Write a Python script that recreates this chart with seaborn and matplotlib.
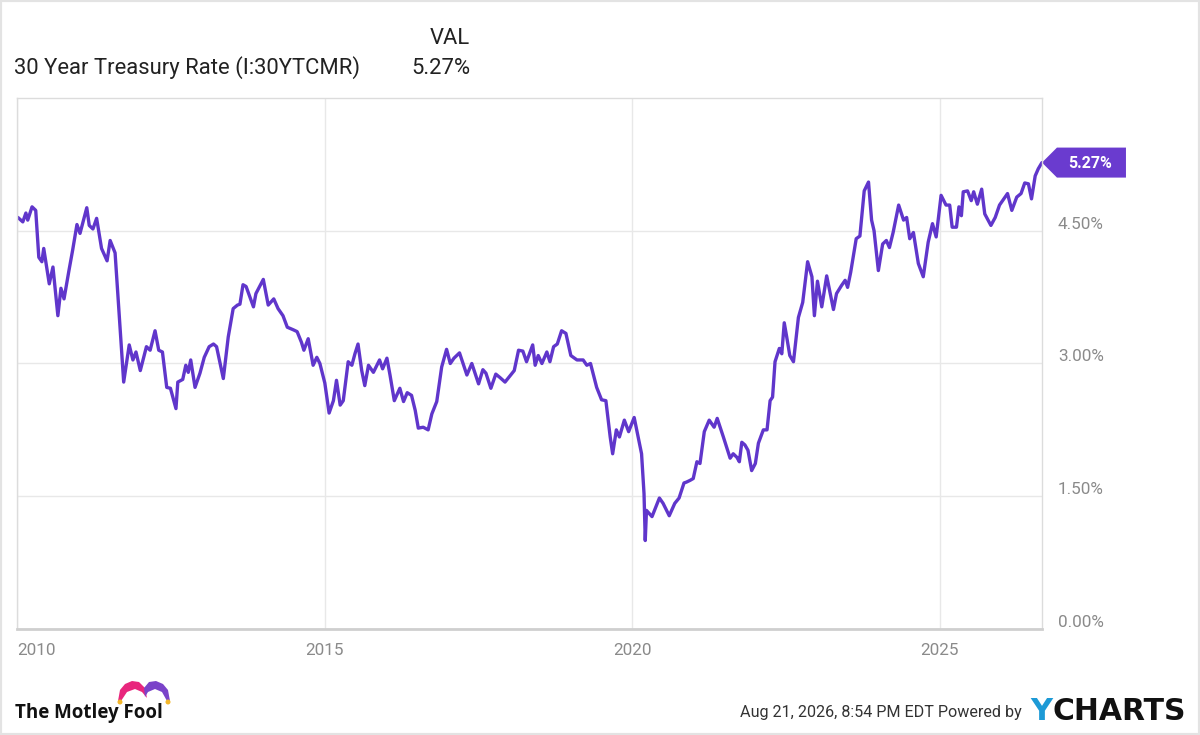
import numpy as np
import pandas as pd
import seaborn as sns
import matplotlib.pyplot as plt
from matplotlib.patches import Polygon, Rectangle, Circle
from matplotlib.transforms import ScaledTranslation

# 30 year treasury rate (decimal year, percent)
years = [
    2010.01, 2010.09, 2010.14, 2010.17, 2010.24, 2010.30, 2010.35, 2010.40, 2010.43, 2010.52,
    2010.58, 2010.66, 2010.71, 2010.76, 2010.84, 2010.90, 2010.97, 2011.02, 2011.13, 2011.17,
    2011.23, 2011.29, 2011.37, 2011.46, 2011.51, 2011.59, 2011.73, 2011.82, 2011.88, 2011.93,
    2012.00, 2012.10, 2012.16, 2012.24, 2012.30, 2012.36, 2012.43, 2012.49, 2012.58, 2012.61,
    2012.69, 2012.74, 2012.78, 2012.82, 2012.89, 2012.97, 2013.04, 2013.12, 2013.19, 2013.24,
    2013.35, 2013.43, 2013.51, 2013.58, 2013.62, 2013.67, 2013.72, 2013.84, 2013.88, 2014.00,
    2014.08, 2014.17, 2014.24, 2014.32, 2014.39, 2014.49, 2014.55, 2014.62, 2014.66, 2014.73,
    2014.81, 2014.87, 2014.92, 2015.00, 2015.07, 2015.14, 2015.19, 2015.25, 2015.30, 2015.38,
    2015.44, 2015.49, 2015.54, 2015.60, 2015.65, 2015.71, 2015.79, 2015.89, 2015.94, 2016.01,
    2016.06, 2016.13, 2016.22, 2016.28, 2016.34, 2016.41, 2016.47, 2016.52, 2016.60, 2016.68,
    2016.74, 2016.82, 2016.90, 2016.98, 2017.04, 2017.10, 2017.19, 2017.31, 2017.39, 2017.50,
    2017.57, 2017.62, 2017.70, 2017.78, 2017.85, 2017.93, 2018.01, 2018.08, 2018.15, 2018.22,
    2018.28, 2018.38, 2018.42, 2018.47, 2018.53, 2018.61, 2018.66, 2018.72, 2018.78, 2018.85,
    2018.92, 2019.00, 2019.10, 2019.20, 2019.26, 2019.32, 2019.42, 2019.50, 2019.57, 2019.64,
    2019.68, 2019.74, 2019.79, 2019.87, 2019.94, 2020.03, 2020.10, 2020.15, 2020.19, 2020.21,
    2020.23, 2020.32, 2020.44, 2020.50, 2020.60, 2020.69, 2020.76, 2020.84, 2020.88, 2020.94,
    2020.99, 2021.05, 2021.10, 2021.17, 2021.25, 2021.33, 2021.38, 2021.48, 2021.59, 2021.64,
    2021.70, 2021.74, 2021.78, 2021.83, 2021.88, 2021.94, 2022.00, 2022.05, 2022.13, 2022.19,
    2022.24, 2022.28, 2022.32, 2022.39, 2022.43, 2022.47, 2022.51, 2022.56, 2022.62, 2022.70,
    2022.77, 2022.85, 2022.92, 2022.96, 2023.01, 2023.08, 2023.16, 2023.27, 2023.32, 2023.40,
    2023.46, 2023.50, 2023.55, 2023.64, 2023.70, 2023.77, 2023.84, 2023.89, 2023.93, 2024.00,
    2024.07, 2024.13, 2024.18, 2024.24, 2024.33, 2024.41, 2024.46, 2024.51, 2024.57, 2024.65,
    2024.73, 2024.81, 2024.88, 2024.94, 2025.02, 2025.10, 2025.16, 2025.20, 2025.27, 2025.31,
    2025.35, 2025.38, 2025.45, 2025.51, 2025.55, 2025.61, 2025.68, 2025.73, 2025.83, 2025.90,
    2025.97, 2026.10, 2026.17, 2026.25, 2026.32, 2026.38, 2026.44, 2026.49, 2026.55, 2026.60,
    2026.66,
]
rates = [
    4.65, 4.60, 4.70, 4.62, 4.77, 4.73, 4.20, 4.15, 4.30, 3.90,
    4.09, 3.54, 3.85, 3.73, 4.05, 4.28, 4.57, 4.47, 4.76, 4.56,
    4.52, 4.64, 4.30, 4.16, 4.39, 4.25, 2.79, 3.21, 3.04, 3.13,
    2.92, 3.19, 3.15, 3.37, 3.15, 3.13, 2.73, 2.72, 2.49, 2.79,
    2.82, 2.98, 2.90, 3.04, 2.73, 2.89, 3.07, 3.19, 3.22, 3.19,
    2.83, 3.30, 3.62, 3.66, 3.67, 3.89, 3.87, 3.64, 3.79, 3.95,
    3.66, 3.73, 3.62, 3.54, 3.41, 3.38, 3.36, 3.24, 3.15, 3.28,
    2.98, 3.07, 3.00, 2.78, 2.44, 2.58, 2.81, 2.53, 2.58, 3.02,
    2.98, 3.11, 3.22, 2.92, 2.75, 2.98, 2.90, 3.04, 2.94, 3.06,
    2.87, 2.58, 2.72, 2.57, 2.67, 2.64, 2.47, 2.27, 2.28, 2.25,
    2.43, 2.57, 2.96, 3.16, 3.00, 3.06, 3.12, 2.87, 3.00, 2.77,
    2.93, 2.89, 2.72, 2.88, 2.84, 2.79, 2.86, 2.92, 3.15, 3.14,
    3.02, 3.21, 2.98, 3.09, 3.00, 3.13, 3.02, 3.19, 3.22, 3.37,
    3.34, 3.09, 3.04, 3.04, 2.98, 3.00, 2.73, 2.59, 2.58, 2.17,
    1.98, 2.25, 2.17, 2.36, 2.23, 2.39, 2.15, 1.98, 1.53, 1.00,
    1.34, 1.27, 1.48, 1.42, 1.28, 1.42, 1.48, 1.65, 1.66, 1.68,
    1.70, 1.89, 1.87, 2.23, 2.36, 2.28, 2.38, 2.17, 1.93, 1.98,
    1.94, 1.89, 2.11, 2.08, 2.02, 1.79, 1.87, 2.10, 2.25, 2.25,
    2.58, 2.62, 3.02, 3.17, 3.11, 3.46, 3.30, 3.09, 3.02, 3.52,
    3.69, 4.15, 3.98, 3.54, 3.93, 3.64, 3.99, 3.61, 3.79, 3.88,
    3.94, 3.86, 4.03, 4.41, 4.44, 4.95, 5.05, 4.62, 4.50, 4.05,
    4.35, 4.39, 4.31, 4.48, 4.79, 4.62, 4.65, 4.41, 4.48, 4.13,
    3.98, 4.37, 4.58, 4.43, 4.90, 4.79, 4.79, 4.54, 4.54, 4.77,
    4.67, 4.94, 4.95, 4.84, 4.94, 4.80, 4.97, 4.69, 4.56, 4.65,
    4.79, 4.92, 4.73, 4.88, 4.92, 5.04, 5.03, 4.86, 5.12, 5.20,
    5.27,
]
x_ticks = [2010, 2015, 2020, 2025]
y_ticks = [0.0, 1.5, 3.0, 4.5]

df = pd.DataFrame({'year': years, 'rate': rates})

sns.set_style("white")
plt.rcParams['font.family'] = ['Roboto', 'DejaVu Sans']

purple = '#6036cb'
grey_text = '#8a8a8a'
grid_col = '#e8e8e8'

fig = plt.figure(figsize=(12, 7.35), dpi=100)
ax = fig.add_axes([0.0144, 0.1442, 0.8539, 0.7225])

sns.lineplot(data=df, x='year', y='rate', ax=ax, color=purple, linewidth=2.4)

ax.set_xlim(2010.0, 2026.66)
ax.set_ylim(0, 6.0)
ax.set_xlabel('')
ax.set_ylabel('')

ax.set_xticks(x_ticks)
ax.set_xticklabels([str(t) for t in x_ticks])
ax.set_yticks(y_ticks)
ax.set_yticklabels(['%.2f%%' % v for v in y_ticks])
ax.yaxis.tick_right()
ax.grid(True, color=grid_col, linewidth=1)
ax.tick_params(axis='both', length=0, labelcolor=grey_text, labelsize=12.3)
ax.tick_params(axis='y', pad=11.5)
ax.tick_params(axis='x', pad=10)

# y labels sit a little above their gridlines
for lab in ax.get_yticklabels():
    lab.set_transform(lab.get_transform() + ScaledTranslation(0, 8 / 100, fig.dpi_scale_trans))
ax.get_xticklabels()[0].set_horizontalalignment('left')

for side in ['top', 'left', 'right']:
    ax.spines[side].set_color('#dcdcdc')
    ax.spines[side].set_linewidth(1)
ax.spines['bottom'].set_color('#cfcfcf')
ax.spines['bottom'].set_linewidth(2)

# last value flag
tag = fig.dpi_scale_trans + ScaledTranslation(years[-1], rates[-1], ax.transData)
flag = Polygon([(0, 0), (0.15, 0.15), (0.84, 0.15), (0.84, -0.15), (0.15, -0.15)],
               closed=True, transform=tag, facecolor='#6a3bcf', edgecolor='none', clip_on=False)
ax.add_patch(flag)
ax.text(0.485, -0.005, '%.2f%%' % rates[-1], transform=tag, color='white', fontsize=11.5,
        fontweight='bold', ha='center', va='center', clip_on=False)

# header
fig.text(14 / 1200, 1 - 68 / 735, '30 Year Treasury Rate (I:30YTCMR)', fontsize=15.8,
         color='#222222', ha='left', va='center')
fig.text(470 / 1200, 1 - 39 / 735, 'VAL', fontsize=15.8, color='#222222', ha='right', va='center')
fig.text(470 / 1200, 1 - 68 / 735, '%.2f%%' % rates[-1], fontsize=15.8, color='#222222',
         ha='right', va='center')

# footer
fig.text(15 / 1200, 1 - 713 / 735, 'The Motley Fool', fontsize=13.5, fontweight='bold',
         family=['Open Sans', 'DejaVu Sans'], color='#111111', ha='left', va='center')


def px(points):
    return [(a / 1200, 1 - b / 735) for a, b in points]


pink_hat = px([(118, 701), (120, 690), (125, 684), (132, 681), (139, 682), (145, 688), (147, 698),
               (142, 692), (135, 689), (127, 692), (121, 701)])
purple_hat = px([(170, 701), (168, 690), (163, 684), (156, 681), (149, 682), (144, 688), (145, 697),
                 (148, 692), (155, 689), (162, 692), (167, 701)])
fig.patches.append(Polygon(pink_hat, closed=True, transform=fig.transFigure,
                           facecolor='#e8267d', edgecolor='none'))
fig.patches.append(Polygon(purple_hat, closed=True, transform=fig.transFigure,
                           facecolor='#7a43c9', edgecolor='none'))
for cx, cy in [(120, 702), (168, 702)]:
    fig.patches.append(Circle((cx, 735 - cy), 2.5, transform=None, facecolor='#f3b72b',
                              edgecolor='none'))

fig.text(1022 / 1200, 1 - 713 / 735, 'Aug 21, 2026, 8:54 PM EDT Powered by', fontsize=11.6,
         color='#333333', ha='right', va='center')
fig.text(1030 / 1200, 1 - 712 / 735, 'Y', fontsize=22, fontweight='bold', color='#1d9ad6',
         family=['DejaVu Sans'], ha='left', va='center')
fig.text(1186 / 1200, 1 - 712 / 735, 'CHARTS', fontsize=21.5, fontweight='bold', color='#111111',
         family=['DejaVu Sans'], ha='right', va='center')

# thin frame around the whole picture
fig.patches.append(Rectangle((0, 0), 1, 1, transform=fig.transFigure, fill=False,
                             edgecolor='#e3e3e3', linewidth=3))

fig.savefig('out.png', dpi=100)
